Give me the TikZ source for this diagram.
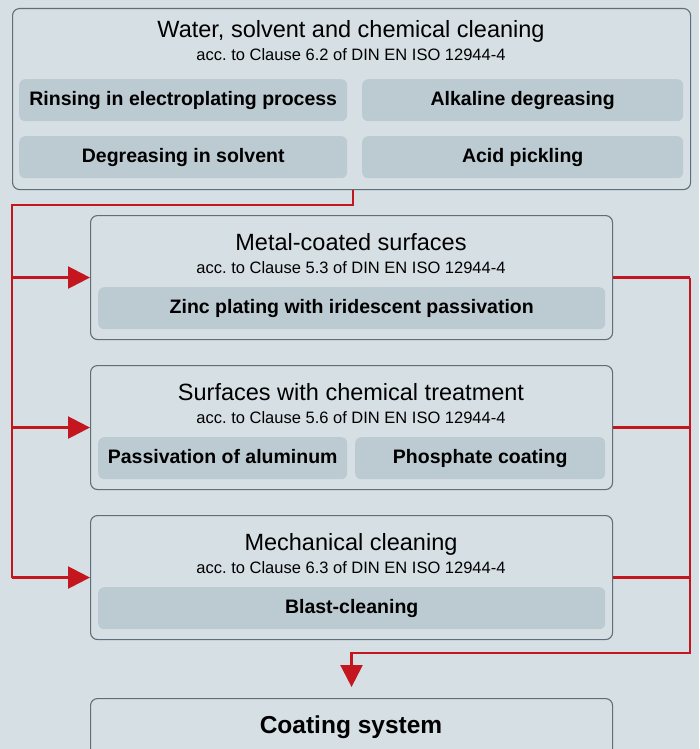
\documentclass[tikz,border=0pt]{standalone}
\usepackage{fontspec}
\setmainfont{Liberation Sans}
\usepackage{tikz}
\usetikzlibrary{arrows.meta, positioning}
\definecolor{bgblue}{HTML}{D6DFE4}
\definecolor{itemblue}{HTML}{BCCAD1}
\definecolor{rimgray}{HTML}{5F6F78}
\definecolor{flowred}{HTML}{C4161F}
\frenchspacing
\tikzset{
  group/.style={draw=rimgray, fill=bgblue, line width=1.1pt, rounded corners=7pt,
                minimum width=522pt, minimum height=124pt, anchor=north west},
  item/.style={fill=itemblue, rounded corners=6pt, minimum height=42pt,
               text height=14.5pt, text depth=4pt, inner ysep=0pt,
               anchor=north west, font=\fontsize{19.5}{22}\selectfont\bfseries},
  head/.style={anchor=base, font=\fontsize{23.5}{26}\selectfont},
  acc/.style={anchor=base, font=\fontsize{16.5}{19}\selectfont},
  flow/.style={draw=flowred, line width=2.4pt},
  tip/.style={-{Triangle[length=22pt,width=22pt]}},
}
\begin{document}
\begin{tikzpicture}[x=1pt, y=-1pt]
\fill[bgblue] (0,0) rectangle (699,749);
\useasboundingbox (0,0) rectangle (699,749);
%
\node[group, minimum width=678pt, minimum height=181pt] (clean) at (12,8) {};
\node[head] (cleanhead) at (351,38) {Water, solvent and chemical cleaning};
\node[acc] (cleanacc) at (351,61) {acc. to Clause 6.2 of DIN EN ISO 12944-4};
\node[item, minimum width=328pt] (rinse) at (19,79) {Rinsing in electroplating process};
\node[item, minimum width=321pt] (alkali) at (362,79) {Alkaline degreasing};
\node[item, minimum width=328pt] (solvent) at (19,136) {Degreasing in solvent};
\node[item, minimum width=321pt] (acid) at (362,136) {Acid pickling};
%
\node[group] (metal) at (90,215) {};
\node[head] (metalhead) at (351,250) {Metal-coated surfaces};
\node[acc] (metalacc) at (351,273) {acc. to Clause 5.3 of DIN EN ISO 12944-4};
\node[item, minimum width=507pt] (zinc) at (98,287) {Zinc plating with iridescent passivation};
%
\node[group] (chem) at (90,365) {};
\node[head] (chemhead) at (351,400) {Surfaces with chemical treatment};
\node[acc] (chemacc) at (351,423) {acc. to Clause 5.6 of DIN EN ISO 12944-4};
\node[item, minimum width=249pt] (alu) at (98,437) {Passivation of aluminum};
\node[item, minimum width=250pt] (phos) at (355,437) {Phosphate coating};
%
\node[group] (mech) at (90,515) {};
\node[head] (mechhead) at (351,550) {Mechanical cleaning};
\node[acc] (mechacc) at (351,573) {acc. to Clause 6.3 of DIN EN ISO 12944-4};
\node[item, minimum width=507pt] (blast) at (98,587) {Blast-cleaning};
%
\node[group, minimum height=90pt] (coat) at (90,698) {};
\node[anchor=base, font=\fontsize{24.5}{28}\selectfont\bfseries] (coathead) at (351,733) {Coating system};
%
\coordinate (lbus) at (12,205);
\coordinate (rbus) at (690,653);
\draw[flow] (clean.south -| 353,0) |- (lbus) -- (lbus |- mech.west);
\foreach \n in {metal, chem, mech}
  \draw[flow, tip] (lbus |- \n.west) -- (\n.west);
\foreach \n in {metal, chem}
  \draw[flow] (\n.east) -- (\n.east -| rbus);
\draw[flow, tip, shorten >=11pt] (mech.east) -| (rbus) -| (coat.north);
\draw[flow] (rbus |- metal.east) -- (rbus);
\end{tikzpicture}
\end{document}
